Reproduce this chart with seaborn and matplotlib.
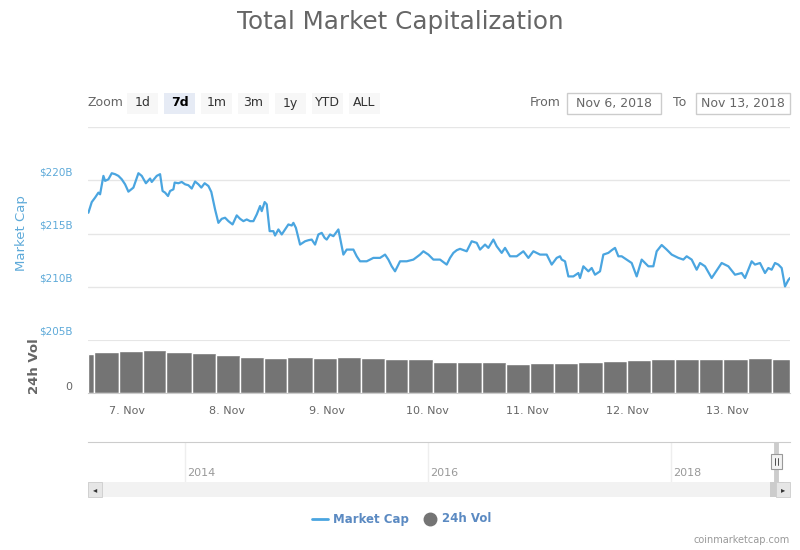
import numpy as np
import pandas as pd
import matplotlib
matplotlib.use('Agg')
import matplotlib.pyplot as plt
from matplotlib.patches import Rectangle
from matplotlib.lines import Line2D
import seaborn as sns

# Market cap (hours after Nov 6 2018 00:00, $B)
cap_hours = [14.7, 15.5, 16.3, 17.1, 17.5, 18.3, 18.7, 19.5, 20.3, 21.1, 21.9, 22.7, 23.5,
             24.3, 25.5, 26.7, 27.5, 28.5, 29.5, 29.9, 31.1, 31.9, 32.5, 33.1, 33.8, 34.3,
             35.1, 35.4, 36.3, 37.1, 37.9, 38.7, 39.5, 40.3, 41.1, 41.8, 42.6, 43.5, 44.2,
             45.1, 45.9, 46.7, 47.5, 48.3, 49.3, 50.3, 51.1, 51.9, 52.7, 53.5, 54.3, 55.1,
             55.9, 56.3, 57.0, 57.5, 58.2, 59.1, 59.5, 60.3, 61.1, 61.9, 62.7, 63.5, 63.9,
             64.5, 65.5, 66.7, 67.5, 68.3, 69.1, 69.9, 70.7, 71.4, 71.9, 72.7, 73.5, 74.7,
             75.9, 76.7, 78.3, 79.1, 79.9, 81.5, 83.1, 84.7, 85.9, 86.7, 87.5, 88.3, 89.5,
             91.1, 92.7, 94.3, 95.1, 96.3, 97.5, 99.1, 100.7, 101.5, 102.3, 103.1, 103.9,
             105.5, 106.7, 107.9, 108.7, 109.9, 110.7, 111.9, 112.7, 113.9, 114.7, 115.9,
             117.5, 119.1, 120.3, 121.5, 123.1, 124.7, 125.9, 127.1, 127.9, 128.3, 129.1,
             129.9, 131.1, 132.3, 132.7, 133.5, 134.7, 135.5, 136.3, 137.5, 138.3, 139.5,
             140.3, 141.1, 141.9, 142.7, 143.9, 145.1, 146.3, 147.5, 149.1, 150.3, 151.1,
             152.3, 153.5, 154.7, 156.3, 157.5, 158.3, 159.5, 160.7, 161.5, 162.7, 164.3,
             165.9, 166.7, 168.3, 169.9, 171.5, 172.3, 173.9, 174.7, 175.9, 177.1, 177.9,
             178.7, 179.5, 180.3, 181.1, 181.9, 182.7, 183.1]
cap_values = [216.95, 217.95, 218.37, 218.84, 218.68, 220.41, 219.94, 220.09, 220.66, 220.57,
              220.41, 220.09, 219.62, 218.93, 219.31, 220.66, 220.41, 219.72, 220.16, 219.84,
              220.41, 220.57, 218.99, 218.84, 218.52, 218.99, 219.15, 219.78, 219.72, 219.84,
              219.62, 219.53, 219.22, 219.88, 219.62, 219.31, 219.72, 219.46, 218.90, 217.26,
              216.00, 216.38, 216.48, 216.16, 215.85, 216.70, 216.38, 216.16, 216.32, 216.16,
              216.16, 216.79, 217.58, 217.10, 217.95, 217.74, 215.22, 215.22, 214.81, 215.38,
              214.91, 215.38, 215.85, 215.75, 216.00, 215.53, 213.96, 214.27, 214.37, 214.43,
              213.96, 214.91, 215.06, 214.59, 214.43, 214.91, 214.75, 215.38, 213.02, 213.49,
              213.49, 212.86, 212.39, 212.39, 212.71, 212.71, 213.02, 212.55, 211.92, 211.45,
              212.39, 212.39, 212.55, 213.02, 213.33, 213.02, 212.55, 212.55, 212.08, 212.71,
              213.18, 213.43, 213.56, 213.33, 214.27, 214.12, 213.49, 213.96, 213.65, 214.43,
              213.80, 213.18, 213.65, 212.86, 212.86, 213.33, 212.71, 213.33, 213.02, 213.02,
              212.08, 212.71, 212.86, 212.55, 212.39, 210.97, 210.97, 211.29, 210.82, 211.92,
              211.45, 211.76, 211.13, 211.45, 213.02, 213.18, 213.43, 213.65, 212.86, 212.86,
              212.55, 212.23, 210.97, 212.55, 211.92, 211.92, 213.33, 213.92, 213.49, 213.02,
              212.71, 212.55, 212.86, 212.55, 211.60, 212.23, 211.92, 210.82, 211.76, 212.23,
              211.92, 211.13, 211.29, 210.82, 212.39, 212.08, 212.23, 211.29, 211.76, 211.60,
              212.23, 212.08, 211.76, 210.03, 210.63, 210.82]

# 24h volume ($B), grouped columns: edges in hours
vol_edges = [14.6, 16.1, 22.1, 27.8, 33.4, 39.6, 45.4, 51.1, 56.9, 62.4, 68.6, 74.4, 80.2,
             85.9, 91.4, 97.4, 103.2, 109.2, 115.0, 120.7, 126.5, 132.2, 138.2, 144.0,
             149.8, 155.5, 161.3, 167.0, 173.0, 178.8, 183.1]
vol_values = [14.6, 15.3, 15.8, 16.1, 15.3, 14.8, 14.2, 13.5, 13.2, 13.6, 13.2, 13.5, 13.0,
              12.8, 12.6, 11.7, 11.5, 11.5, 11.0, 11.2, 11.3, 11.7, 12.0, 12.2, 12.7, 12.8,
              12.7, 12.7, 13.0, 12.8]

day_labels = ['7. Nov', '8. Nov', '9. Nov', '10. Nov', '11. Nov', '12. Nov', '13. Nov']
cap_ticks = [205, 210, 215, 220]
year_labels = [2014, 2016, 2018]
zoom_buttons = ['1d', '7d', '1m', '3m', '1y', 'YTD', 'ALL']

LINE = '#4aa5e0'
LABEL = '#5eaad9'
GRID = '#e6e6e6'
VOL = '#747474'

sns.set_style('white')
plt.rcParams['font.family'] = ['DejaVu Sans']

W, H = 800, 550
fig = plt.figure(figsize=(8, 5.5), dpi=100)


def box(x0, y0, x1, y1):
    # pixel box (from top-left) -> figure fraction rect
    return [x0 / W, 1 - y1 / H, (x1 - x0) / W, (y1 - y0) / H]


def fx(x):
    return x / W


def fy(y):
    return 1 - y / H


xlim = (14.6, 183.1)

# ---- main pane
ax = fig.add_axes(box(88, 127, 790, 340))
df = pd.DataFrame({'hour': cap_hours, 'cap': cap_values})
sns.lineplot(data=df, x='hour', y='cap', ax=ax, color=LINE, lw=1.6)
ax.set_xlim(*xlim)
ax.set_ylim(205, 225)
for v in [210, 215, 220, 225]:
    ax.axhline(v, color=GRID, lw=1, zorder=0)
for v in cap_ticks:
    ax.text(-0.022, v + 0.3, f'${v}B', transform=ax.get_yaxis_transform(),
            ha='right', va='bottom', color=LABEL, fontsize=7.5)
ax.set_xticks([])
ax.set_yticks([])
ax.set_xlabel('')
ax.set_ylabel('')
for s in ax.spines.values():
    s.set_visible(False)
fig.text(fx(22), fy(233), 'Market Cap', rotation=90, ha='center', va='center',
         color=LABEL, fontsize=9.5)

# ---- volume pane
vax = fig.add_axes(box(88, 339.5, 790, 393))
widths = np.diff(vol_edges)
vax.bar(vol_edges[:-1], vol_values, width=widths, align='edge', color=VOL,
        edgecolor='white', linewidth=1.0)
vax.set_xlim(*xlim)
vax.set_ylim(0, 20)
vax.axhline(20, color=GRID, lw=1.5)
vax.set_yticks([])
vax.set_xticks([24 * (i + 1) for i in range(len(day_labels))])
vax.set_xticklabels(day_labels, color='#666666', fontsize=8)
vax.tick_params(axis='x', length=6, color='#ccd6eb', pad=3)
for s in ['top', 'left', 'right']:
    vax.spines[s].set_visible(False)
vax.spines['bottom'].set_color('#cccccc')
vax.text(-0.022, 0.3, '0', transform=vax.get_yaxis_transform(), ha='right', va='bottom',
         color='#666666', fontsize=8)
fig.text(fx(35), fy(366), '24h Vol', rotation=90, ha='center', va='center',
         color='#666666', fontsize=9.5, fontweight='bold')

# ---- navigator
nav = fig.add_axes(box(88, 442, 790, 482))
nav.set_xlim(2013.2, 2018.98)
nav.set_ylim(0, 1)
nav.set_xticks([])
nav.set_yticks([])
for s in ['left', 'right', 'bottom']:
    nav.spines[s].set_visible(False)
nav.spines['top'].set_color('#cccccc')
for yr in year_labels:
    nav.axvline(yr, color='#eeeeee', lw=1)
    nav.text(yr + 0.02, 0.22, str(yr), color='#999999', fontsize=8, va='center', ha='left')
end_year = 2018 + (309 + cap_hours[-1] / 24) / 365
nav.axvline(end_year, color='#cccccc', lw=3.5)
hx = nav.transData.transform((end_year, 0))[0] / fig.dpi / 8 * W
fig.add_artist(Rectangle((fx(hx - 5.5), fy(469)), 11 / W, 15 / H, transform=fig.transFigure,
                         facecolor='#f2f2f2', edgecolor='#999999', lw=0.8))
for dx in (-1.3, 1.3):
    fig.add_artist(Line2D([fx(hx + dx)] * 2, [fy(458), fy(465)], color='#333333', lw=0.6))

# scrollbar
fig.add_artist(Rectangle((fx(88), fy(497)), 702 / W, 15 / H, transform=fig.transFigure,
                         facecolor='#f2f2f2', edgecolor='none'))
fig.add_artist(Rectangle((fx(88), fy(497)), 14 / W, 15 / H, transform=fig.transFigure,
                         facecolor='#e6e6e6', edgecolor='#cccccc', lw=0.6))
fig.add_artist(Rectangle((fx(hx - 6), fy(497)), 14 / W, 15 / H, transform=fig.transFigure,
                         facecolor='#cccccc', edgecolor='none'))
fig.add_artist(Rectangle((fx(776), fy(497)), 14 / W, 15 / H, transform=fig.transFigure,
                         facecolor='#e6e6e6', edgecolor='#cccccc', lw=0.6))
fig.text(fx(95), fy(489.5), '◂', ha='center', va='center', fontsize=6, color='#333333')
fig.text(fx(783), fy(489.5), '▸', ha='center', va='center', fontsize=6, color='#333333')

# ---- title
fig.text(0.5, fy(22), 'Total Market Capitalization', ha='center', va='center',
         fontsize=17.7, color='#666666')

# ---- range selector
fig.text(fx(88), fy(103), 'Zoom', ha='left', va='center', fontsize=9, color='#666666')
bx = 127
for lab in zoom_buttons:
    sel = lab == '7d'
    fig.add_artist(Rectangle((fx(bx), fy(114)), 31 / W, 21 / H, transform=fig.transFigure,
                             facecolor='#e6ebf5' if sel else '#f7f7f7', edgecolor='none'))
    fig.text(fx(bx + 15.5), fy(103), lab, ha='center', va='center', fontsize=9,
             color='#000000' if sel else '#333333', fontweight='bold' if sel else 'normal')
    bx += 37

fig.text(fx(530), fy(103), 'From', ha='left', va='center', fontsize=9, color='#666666')
fig.text(fx(673), fy(103), 'To', ha='left', va='center', fontsize=9, color='#666666')
for x0, lab in [(567, 'Nov 6, 2018'), (696, 'Nov 13, 2018')]:
    fig.add_artist(Rectangle((fx(x0), fy(114)), 94 / W, 21 / H, transform=fig.transFigure,
                             facecolor='white', edgecolor='#cccccc', lw=1))
    fig.text(fx(x0 + 47), fy(103), lab, ha='center', va='center', fontsize=9, color='#666666')

# ---- legend
fig.add_artist(Line2D([fx(312), fx(328)], [fy(519), fy(519)], color=LINE, lw=2))
fig.text(fx(333), fy(519), 'Market Cap', ha='left', va='center', fontsize=8.5,
         fontweight='bold', color='#5b8ac2')
fig.add_artist(Line2D([fx(430)], [fy(519)], marker='o', markersize=9, color=VOL, lw=0))
fig.text(fx(442), fy(519), '24h Vol', ha='left', va='center', fontsize=8.5,
         fontweight='bold', color='#5b8ac2')

fig.text(fx(790), fy(540), 'coinmarketcap.com', ha='right', va='center', fontsize=7,
         color='#999999')

fig.savefig('out.png', dpi=100)
